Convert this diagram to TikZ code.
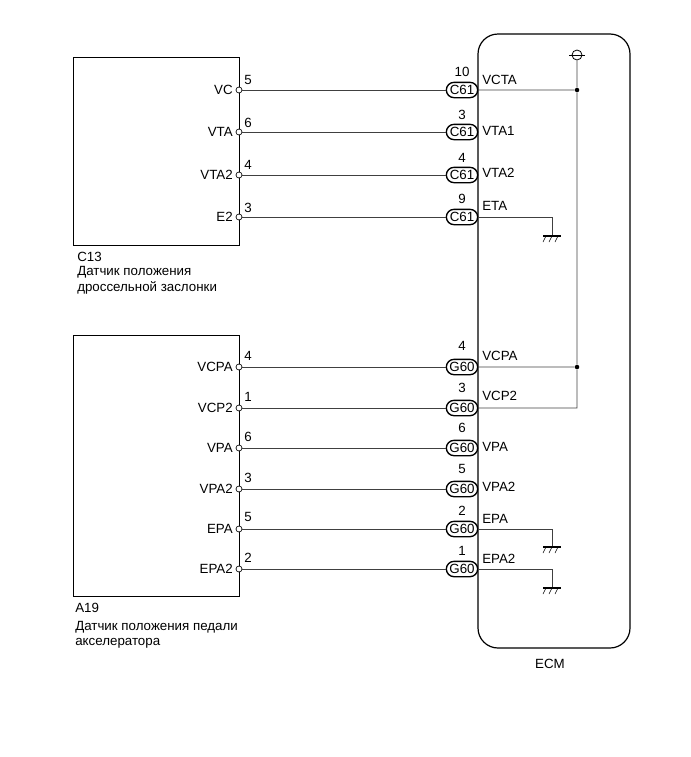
\documentclass[tikz,border=0pt]{standalone}
\usepackage{fontspec}
\setmainfont{Liberation Sans}
\usetikzlibrary{positioning,shapes.misc,calc}

\tikzset{
  box/.style={draw,line width=1pt,minimum width=0.75*166pt,minimum height=0.75*188pt,anchor=north west,inner sep=0pt},
  pin/.style={draw,circle,fill=white,inner sep=0pt,minimum size=4.5pt,line width=0.5pt},
  conn/.style={draw,rounded rectangle,line width=1pt,fill=white,inner sep=0pt,minimum width=23.5pt,minimum height=11.5pt},
  lbl/.style={inner sep=0pt,anchor=west},
  wire/.style={line width=0.6pt,black!75},
  dot/.style={circle,fill=black,inner sep=0pt,minimum size=3.4pt}
}
\newcommand{\gnd}[1]{%
  \draw[line width=0.9pt] ($(#1)+(-9,0)$) -- ($(#1)+(9,0)$);
  \draw[line width=0.4pt] ($(#1)+(-6,0)$) -- ($(#1)+(-9,6)$);
  \draw[line width=0.4pt] ($(#1)+(0,0)$) -- ($(#1)+(-3,6)$);
  \draw[line width=0.4pt] ($(#1)+(6,0)$) -- ($(#1)+(3,6)$);
}

\begin{document}
\begin{tikzpicture}[x=0.75pt,y=-0.75pt,every node/.style={font=\fontsize{10}{12}\selectfont}]
  \useasboundingbox (0,0) rectangle (691,757);

  % ECM ----------------------------------------------------
  \draw[line width=0.9pt,rounded corners=15pt] (478,34) rectangle (630,648);
  \node (ecmT) at (550,664) {ECM};

  % C13 ----------------------------------------------------
  \node[box] (c13) at (73,57) {};
  \node[lbl] (c13a) at (77,257) {C13};
  \node[lbl] (c13b) at (77,272) {Датчик положения};
  \node[lbl] (c13c) at (77,288) {дроссельной заслонки};

  \node[pin] (vcP)   at (239,90)  {};
  \node[pin] (vtaP)  at (239,132) {};
  \node[pin] (vta2P) at (239,175) {};
  \node[pin] (e2P)   at (239,217) {};

  \node[left=2pt of vcP,inner sep=0pt]   (vcT)   {VC};
  \node[left=2pt of vtaP,inner sep=0pt]  (vtaT)  {VTA};
  \node[left=2pt of vta2P,inner sep=0pt] (vta2T) {VTA2};
  \node[left=2pt of e2P,inner sep=0pt]   (e2T)   {E2};

  \node (vcN)   at (248,80)  {5};
  \node (vtaN)  at (248,123) {6};
  \node (vta2N) at (248,165) {4};
  \node (e2N)   at (248,208) {3};

  % A19 ----------------------------------------------------
  \node[box,minimum height=0.75*261pt] (a19) at (73,335) {};
  \node[lbl] (a19a) at (75,608) {A19};
  \node[lbl] (a19b) at (75,627) {Датчик положения педали};
  \node[lbl] (a19c) at (75,643) {акселератора};

  \node[pin] (vcpaP) at (239,367) {};
  \node[pin] (vcp2P) at (239,408) {};
  \node[pin] (vpaP)  at (239,448) {};
  \node[pin] (vpa2P) at (239,489) {};
  \node[pin] (epaP)  at (239,529) {};
  \node[pin] (epa2P) at (239,569) {};

  \node[left=2pt of vcpaP,inner sep=0pt] (vcpaT) {VCPA};
  \node[left=2pt of vcp2P,inner sep=0pt] (vcp2T) {VCP2};
  \node[left=2pt of vpaP,inner sep=0pt]  (vpaT)  {VPA};
  \node[left=2pt of vpa2P,inner sep=0pt] (vpa2T) {VPA2};
  \node[left=2pt of epaP,inner sep=0pt]  (epaT)  {EPA};
  \node[left=2pt of epa2P,inner sep=0pt] (epa2T) {EPA2};

  \node (vcpaN) at (248,356) {4};
  \node (vcp2N) at (248,397) {1};
  \node (vpaN)  at (248,437) {6};
  \node (vpa2N) at (248,478) {3};
  \node (epaN)  at (248,517) {5};
  \node (epa2N) at (248,558) {2};

  % Connectors C61 -----------------------------------------
  \node[conn] (c61a) at (462,90)  {C61};
  \node[conn] (c61b) at (462,132) {C61};
  \node[conn] (c61c) at (462,175) {C61};
  \node[conn] (c61d) at (462,217) {C61};

  \node (c61aN) at (462,72)  {10};
  \node (c61bN) at (462,115) {3};
  \node (c61cN) at (462,158) {4};
  \node (c61dN) at (462,199) {9};

  \node[lbl] (vctaE) at (482,80)  {VCTA};
  \node[lbl] (vta1E) at (482,131) {VTA1};
  \node[lbl] (vta2E) at (482,173) {VTA2};
  \node[lbl] (etaE)  at (482,206) {ETA};

  % Connectors G60 -----------------------------------------
  \node[conn] (g60a) at (462,367) {G60};
  \node[conn] (g60b) at (462,408) {G60};
  \node[conn] (g60c) at (462,448) {G60};
  \node[conn] (g60d) at (462,489) {G60};
  \node[conn] (g60e) at (462,529) {G60};
  \node[conn] (g60f) at (462,569) {G60};

  \node (g60aN) at (462,346) {4};
  \node (g60bN) at (462,388) {3};
  \node (g60cN) at (462,428) {6};
  \node (g60dN) at (462,469) {5};
  \node (g60eN) at (462,511) {2};
  \node (g60fN) at (462,551) {1};

  \node[lbl] (vcpaE) at (482,356) {VCPA};
  \node[lbl] (vcp2E) at (482,396) {VCP2};
  \node[lbl] (vpaE)  at (482,447) {VPA};
  \node[lbl] (vpa2E) at (482,487) {VPA2};
  \node[lbl] (epaE)  at (482,519) {EPA};
  \node[lbl] (epa2E) at (482,559) {EPA2};

  % Wires --------------------------------------------------
  \draw[wire] (vcP) -- (c61a);
  \draw[wire] (vtaP) -- (c61b);
  \draw[wire] (vta2P) -- (c61c);
  \draw[wire] (e2P) -- (c61d);
  \draw[wire] (vcpaP) -- (g60a);
  \draw[wire] (vcp2P) -- (g60b);
  \draw[wire] (vpaP) -- (g60c);
  \draw[wire] (vpa2P) -- (g60d);
  \draw[wire] (epaP) -- (g60e);
  \draw[wire] (epa2P) -- (g60f);

  % Inside ECM ---------------------------------------------
  \node[draw,circle,inner sep=0pt,minimum size=7.5pt,line width=0.6pt] (pwr) at (577,55) {};
  \draw[line width=0.6pt] ($(pwr)+(-8,0)$) -- ($(pwr)+(8,0)$);

  \node[dot] (j1) at (577,90) {};
  \node[dot] (j2) at (577,367) {};
  \coordinate (k2) at (577,408);
  \coordinate (g1) at (552,236);
  \coordinate (g2) at (552,547);
  \coordinate (g3) at (552,588);

  \draw[wire] (c61a) -- (j1);
  \draw[wire] (g60a) -- (j2);
  \draw[wire] (pwr) -- (j1) -- (j2) -- (k2) -- (g60b);
  \draw[wire] (c61d) -| (g1);
  \draw[wire] (g60e) -| (g2);
  \draw[wire] (g60f) -| (g3);

  \gnd{g1}
  \gnd{g2}
  \gnd{g3}
\end{tikzpicture}
\end{document}
